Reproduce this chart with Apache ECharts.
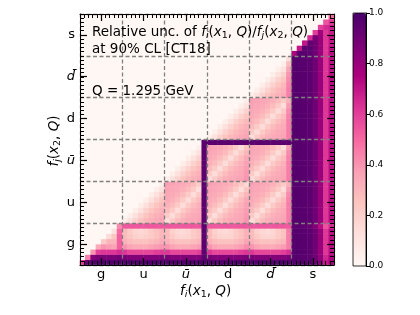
<!DOCTYPE html>
<html>
<head>
<meta charset="utf-8">
<script src="https://cdn.jsdelivr.net/npm/echarts@6/dist/echarts.min.js"></script>
<style>
  html, body { margin: 0; padding: 0; background: #fff; }
  #wrap { position: relative; width: 420px; height: 315px; }
  #chart, #frame { position: absolute; left: 0; top: 0; width: 420px; height: 315px; }
  #frame { pointer-events: none; }
</style>
</head>
<body>
<div id="wrap">
  <div id="chart"></div>
  <div id="frame"></div>
</div>
<script>
// flavour blocks along both axes
const flavors = ["g", "u", "ū", "d", "d̄", "s"];
const minorTicks = 60; // minor tick marks along each axis

// relative uncertainty in % of full scale; rows = f_j(x2) from bottom, columns = f_i(x1)
const rowsG = [
  [60,92,98,98,98,98,98,98, 98,98,98,98,98,98,98,98, 98,98,98,98,98,98,98,98, 98,98,98,98,98,98,98,98, 98,98,98,98,98,98,98,98, 98,98,97,96,92,85,70,78],
  [0,45,85,88,88,88,88,90, 88,86,86,86,86,86,86,88, 88,86,86,86,86,86,86,95, 88,86,86,86,86,86,86,88, 88,86,86,86,86,86,86,88, 97,97,96,95,90,82,66,75],
  [0,0,40,60,62,62,62,65, 62,58,58,58,58,58,60,62, 62,58,58,58,58,58,60,95, 62,58,58,58,58,58,60,62, 62,58,58,58,58,58,60,64, 97,97,96,95,90,80,62,72],
  [0,0,0,34,40,38,36,52, 40,36,34,34,34,36,38,40, 40,36,34,34,34,36,38,95, 40,36,34,34,34,36,38,42, 40,36,34,34,34,36,38,45, 97,97,96,95,90,80,62,72],
  [0,0,0,0,22,30,30,52, 32,28,26,26,26,28,30,34, 32,28,26,26,26,28,30,95, 32,28,26,26,26,28,30,36, 32,28,26,26,26,28,30,45, 97,97,96,95,90,80,62,72],
  [0,0,0,0,0,15,24,52, 28,24,20,18,20,22,26,30, 28,22,18,17,18,22,26,95, 28,22,18,17,18,22,26,32, 28,22,18,17,18,22,26,45, 97,97,96,95,90,80,62,72],
  [0,0,0,0,0,0,12,50, 28,22,18,16,18,22,26,30, 28,20,16,15,17,22,26,95, 28,20,16,15,17,22,26,32, 28,20,16,15,17,22,26,45, 97,97,96,95,90,80,62,72],
  [0,0,0,0,0,0,0,42, 54,54,54,54,54,54,54,54, 54,54,54,54,54,54,54,95, 54,54,54,54,54,54,54,54, 54,54,54,54,54,54,54,54, 95,95,94,92,85,72,55,65]
];
const rowsU = [
  [0,0,0,0,0,0,0,0, 5,12,19,25,29,32,34,36, 14,22,28,32,34,35,36,95, 14,22,28,32,34,35,36,40, 14,22,28,32,34,35,36,45, 97,97,96,95,90,80,62,72],
  [0,0,0,0,0,0,0,0, 0,5,12,19,25,29,32,34, 22,14,22,28,32,34,35,95, 22,14,22,28,32,34,35,39, 22,14,22,28,32,34,35,45, 97,97,96,95,90,80,62,72],
  [0,0,0,0,0,0,0,0, 0,0,5,12,19,25,29,32, 28,22,14,22,28,32,34,95, 28,22,14,22,28,32,34,38, 28,22,14,22,28,32,34,45, 97,97,96,95,90,80,62,72],
  [0,0,0,0,0,0,0,0, 0,0,0,5,12,19,25,29, 32,28,22,14,22,28,32,95, 32,28,22,14,22,28,32,37, 32,28,22,14,22,28,32,45, 97,97,96,95,90,80,62,72],
  [0,0,0,0,0,0,0,0, 0,0,0,0,5,12,19,25, 34,32,28,22,14,22,28,95, 34,32,28,22,14,22,28,35, 34,32,28,22,14,22,28,44, 97,97,96,95,90,80,62,72],
  [0,0,0,0,0,0,0,0, 0,0,0,0,0,5,12,19, 35,34,32,28,22,14,22,95, 35,34,32,28,22,14,22,30, 35,34,32,28,22,14,22,42, 97,97,96,95,90,80,62,72],
  [0,0,0,0,0,0,0,0, 0,0,0,0,0,0,5,12, 36,35,34,32,28,22,14,95, 36,35,34,32,28,22,14,25, 36,35,34,32,28,22,14,38, 97,97,96,95,90,80,62,72],
  [0,0,0,0,0,0,0,0, 0,0,0,0,0,0,0,5, 37,36,35,34,32,28,22,95, 37,36,35,34,32,28,22,16, 37,36,35,34,32,28,22,32, 97,97,96,95,90,80,62,72]
];
const rowsUbar = [
  [0,0,0,0,0,0,0,0, 0,0,0,0,0,0,0,0, 5,12,19,25,29,32,34,95, 14,22,28,32,34,35,36,40, 14,22,28,32,34,35,36,45, 97,97,96,95,90,80,62,72],
  [0,0,0,0,0,0,0,0, 0,0,0,0,0,0,0,0, 0,5,12,19,25,29,32,95, 22,14,22,28,32,34,35,39, 22,14,22,28,32,34,35,45, 97,97,96,95,90,80,62,72],
  [0,0,0,0,0,0,0,0, 0,0,0,0,0,0,0,0, 0,0,5,12,19,25,29,95, 28,22,14,22,28,32,34,38, 28,22,14,22,28,32,34,45, 97,97,96,95,90,80,62,72],
  [0,0,0,0,0,0,0,0, 0,0,0,0,0,0,0,0, 0,0,0,5,12,19,25,95, 32,28,22,14,22,28,32,37, 32,28,22,14,22,28,32,45, 97,97,96,95,90,80,62,72],
  [0,0,0,0,0,0,0,0, 0,0,0,0,0,0,0,0, 0,0,0,0,5,12,19,95, 34,32,28,22,14,22,28,35, 34,32,28,22,14,22,28,44, 97,97,96,95,90,80,62,72],
  [0,0,0,0,0,0,0,0, 0,0,0,0,0,0,0,0, 0,0,0,0,0,5,12,95, 35,34,32,28,22,14,22,30, 35,34,32,28,22,14,22,42, 97,97,96,95,90,80,62,72],
  [0,0,0,0,0,0,0,0, 0,0,0,0,0,0,0,0, 0,0,0,0,0,0,5,95, 36,35,34,32,28,22,14,25, 36,35,34,32,28,22,14,38, 97,97,96,95,90,80,62,72],
  [0,0,0,0,0,0,0,0, 0,0,0,0,0,0,0,0, 0,0,0,0,0,0,0,95, 95,95,95,95,95,95,95,95, 95,95,95,95,95,95,95,95, 97,97,96,95,90,80,62,72]
];
const rowsD = [
  [0,0,0,0,0,0,0,0, 0,0,0,0,0,0,0,0, 0,0,0,0,0,0,0,0, 5,12,19,25,29,32,34,36, 14,22,28,32,34,35,36,45, 97,97,96,95,90,80,62,72],
  [0,0,0,0,0,0,0,0, 0,0,0,0,0,0,0,0, 0,0,0,0,0,0,0,0, 0,5,12,19,25,29,32,34, 22,14,22,28,32,34,35,45, 97,97,96,95,90,80,62,72],
  [0,0,0,0,0,0,0,0, 0,0,0,0,0,0,0,0, 0,0,0,0,0,0,0,0, 0,0,5,12,19,25,29,32, 28,22,14,22,28,32,34,45, 97,97,96,95,90,80,62,72],
  [0,0,0,0,0,0,0,0, 0,0,0,0,0,0,0,0, 0,0,0,0,0,0,0,0, 0,0,0,5,12,19,25,29, 32,28,22,14,22,28,32,45, 97,97,96,95,90,80,62,72],
  [0,0,0,0,0,0,0,0, 0,0,0,0,0,0,0,0, 0,0,0,0,0,0,0,0, 0,0,0,0,5,12,19,25, 34,32,28,22,14,22,28,44, 97,97,96,95,90,80,62,72],
  [0,0,0,0,0,0,0,0, 0,0,0,0,0,0,0,0, 0,0,0,0,0,0,0,0, 0,0,0,0,0,5,12,19, 35,34,32,28,22,14,22,42, 97,97,96,95,90,80,62,72],
  [0,0,0,0,0,0,0,0, 0,0,0,0,0,0,0,0, 0,0,0,0,0,0,0,0, 0,0,0,0,0,0,5,12, 36,35,34,32,28,22,14,38, 97,97,96,95,90,80,62,72],
  [0,0,0,0,0,0,0,0, 0,0,0,0,0,0,0,0, 0,0,0,0,0,0,0,0, 0,0,0,0,0,0,0,5, 37,36,35,34,32,28,22,32, 97,97,96,95,90,80,62,72]
];
const rowsDbar = [
  [0,0,0,0,0,0,0,0, 0,0,0,0,0,0,0,0, 0,0,0,0,0,0,0,0, 0,0,0,0,0,0,0,0, 5,12,19,25,29,32,34,45, 97,97,96,95,90,80,62,72],
  [0,0,0,0,0,0,0,0, 0,0,0,0,0,0,0,0, 0,0,0,0,0,0,0,0, 0,0,0,0,0,0,0,0, 0,5,12,19,25,29,32,45, 97,97,96,95,90,80,62,72],
  [0,0,0,0,0,0,0,0, 0,0,0,0,0,0,0,0, 0,0,0,0,0,0,0,0, 0,0,0,0,0,0,0,0, 0,0,5,12,19,25,29,44, 97,97,96,95,90,80,62,72],
  [0,0,0,0,0,0,0,0, 0,0,0,0,0,0,0,0, 0,0,0,0,0,0,0,0, 0,0,0,0,0,0,0,0, 0,0,0,5,12,19,25,42, 97,97,96,95,90,80,62,72],
  [0,0,0,0,0,0,0,0, 0,0,0,0,0,0,0,0, 0,0,0,0,0,0,0,0, 0,0,0,0,0,0,0,0, 0,0,0,0,5,12,19,40, 97,97,96,95,90,80,62,72],
  [0,0,0,0,0,0,0,0, 0,0,0,0,0,0,0,0, 0,0,0,0,0,0,0,0, 0,0,0,0,0,0,0,0, 0,0,0,0,0,5,12,36, 97,97,96,95,90,80,62,72],
  [0,0,0,0,0,0,0,0, 0,0,0,0,0,0,0,0, 0,0,0,0,0,0,0,0, 0,0,0,0,0,0,0,0, 0,0,0,0,0,0,5,28, 97,97,96,95,90,80,62,72],
  [0,0,0,0,0,0,0,0, 0,0,0,0,0,0,0,0, 0,0,0,0,0,0,0,0, 0,0,0,0,0,0,0,0, 0,0,0,0,0,0,0,14, 97,97,96,95,90,80,62,72]
];
const rowsS = [
  [0,0,0,0,0,0,0,0, 0,0,0,0,0,0,0,0, 0,0,0,0,0,0,0,0, 0,0,0,0,0,0,0,0, 0,0,0,0,0,0,0,0, 75,97,96,95,90,80,62,72],
  [0,0,0,0,0,0,0,0, 0,0,0,0,0,0,0,0, 0,0,0,0,0,0,0,0, 0,0,0,0,0,0,0,0, 0,0,0,0,0,0,0,0, 0,70,95,95,90,80,62,72],
  [0,0,0,0,0,0,0,0, 0,0,0,0,0,0,0,0, 0,0,0,0,0,0,0,0, 0,0,0,0,0,0,0,0, 0,0,0,0,0,0,0,0, 0,0,70,93,90,80,62,70],
  [0,0,0,0,0,0,0,0, 0,0,0,0,0,0,0,0, 0,0,0,0,0,0,0,0, 0,0,0,0,0,0,0,0, 0,0,0,0,0,0,0,0, 0,0,0,65,88,80,62,70],
  [0,0,0,0,0,0,0,0, 0,0,0,0,0,0,0,0, 0,0,0,0,0,0,0,0, 0,0,0,0,0,0,0,0, 0,0,0,0,0,0,0,0, 0,0,0,0,60,78,62,68],
  [0,0,0,0,0,0,0,0, 0,0,0,0,0,0,0,0, 0,0,0,0,0,0,0,0, 0,0,0,0,0,0,0,0, 0,0,0,0,0,0,0,0, 0,0,0,0,0,60,65,68],
  [0,0,0,0,0,0,0,0, 0,0,0,0,0,0,0,0, 0,0,0,0,0,0,0,0, 0,0,0,0,0,0,0,0, 0,0,0,0,0,0,0,0, 0,0,0,0,0,0,55,62],
  [0,0,0,0,0,0,0,0, 0,0,0,0,0,0,0,0, 0,0,0,0,0,0,0,0, 0,0,0,0,0,0,0,0, 0,0,0,0,0,0,0,0, 0,0,0,0,0,0,0,50]
];

const rdpu = ["#fff7f3", "#fde0dd", "#fcc5c0", "#fa9fb5", "#f768a1", "#dd3497", "#ae017e", "#7a0177", "#49006a"];

const allRows = [].concat(rowsG, rowsU, rowsUbar, rowsD, rowsDbar, rowsS);
const cells = allRows[0].map((_, i) => String(i));
const heat = [];
allRows.forEach((row, r) => row.forEach((v, c) => heat.push([c, r, v])));

const FONT = "DejaVu Sans";
const mathRich = {
  rm: { fontFamily: FONT, fontSize: 13.5, lineHeight: 18, color: "#000" },
  it: { fontFamily: FONT, fontStyle: "italic", fontSize: 13.5, lineHeight: 18, color: "#000" },
  sub: { fontFamily: FONT, fontStyle: "italic", fontSize: 9.5, lineHeight: 10, verticalAlign: "bottom", color: "#000" },
  subn: { fontFamily: FONT, fontSize: 9.5, lineHeight: 10, verticalAlign: "bottom", color: "#000" }
};
const tickRich = {
  rm: { fontFamily: FONT, fontSize: 13, lineHeight: 14, color: "#000" },
  it: { fontFamily: FONT, fontStyle: "italic", fontSize: 13, lineHeight: 14, color: "#000" }
};
const flavorLabel = (v) => (v === "ū" || v === "d̄") ? "{it|" + v + "}" : "{rm|" + v + "}";

const PLOT = { left: 80, top: 14, width: 254, height: 251 };
const CBAR = { left: 353, top: 13, width: 13, height: 253 };

/* ---------- heatmap, dashed block lines, colour bar, texts ---------- */
function splitAxis() {
  return {
    type: "category", gridIndex: 0, data: flavors, z: 4,
    axisLine: { show: false, onZero: false }, axisTick: { show: false }, axisLabel: { show: false },
    splitLine: { show: true, interval: 0, lineStyle: { color: "#808080", width: 1.3, type: [4, 2.5] } }
  };
}
const chart = echarts.init(document.getElementById("chart"));
chart.setOption({
  animation: false,
  backgroundColor: "#fff",
  grid: [PLOT],
  xAxis: [{ type: "category", gridIndex: 0, data: cells, show: false }, splitAxis()],
  yAxis: [{ type: "category", gridIndex: 0, data: cells, show: false }, splitAxis()],
  visualMap: {
    type: "continuous", min: 0, max: 100, seriesIndex: 0, dimension: 2,
    calculable: false, hoverLink: false, show: true, padding: 0,
    left: CBAR.left, top: CBAR.top, itemWidth: CBAR.width, itemHeight: CBAR.height,
    inRange: { color: rdpu }
  },
  series: [{
    type: "heatmap", xAxisIndex: 0, yAxisIndex: 0, data: heat, z: 2,
    itemStyle: { borderWidth: 0 },
    emphasis: { disabled: true }
  }],
  graphic: [
    {
      type: "text", left: 92, top: 25, z: 20,
      style: {
        rich: mathRich,
        text: "{rm|Relative unc. of }{it|f}{sub|i}{rm|(}{it|x}{subn|1}{rm|, }{it|Q}{rm|)/}{it|f}{sub|j}{rm|(}{it|x}{subn|2}{rm|, }{it|Q}{rm|)}"
      }
    },
    { type: "text", left: 92, top: 42, z: 20, style: { rich: mathRich, text: "{rm|at 90% CL [CT18]}" } },
    { type: "text", left: 92, top: 84, z: 20, style: { rich: mathRich, text: "{rm|Q = 1.295 GeV}" } },
    {
      type: "text", left: 180, top: 284, z: 20,
      style: { rich: mathRich, text: "{it|f}{sub|i}{rm|(}{it|x}{subn|1}{rm|, }{it|Q}{rm|)}" }
    },
    {
      type: "text", x: 54, y: 141, rotation: Math.PI / 2, z: 20,
      style: { rich: mathRich, align: "center", verticalAlign: "middle", text: "{it|f}{sub|j}{rm|(}{it|x}{subn|2}{rm|, }{it|Q}{rm|)}" }
    }
  ]
});

/* ---------- frame: axes, ticks and labels drawn on top ---------- */
function majorAxis(pos, labels) {
  return {
    type: "category", gridIndex: 0, data: flavors, position: pos, z: 6,
    axisLine: { show: true, onZero: false, lineStyle: { color: "#000", width: 1 } },
    axisTick: { show: true, inside: true, alignWithLabel: true, interval: 0, length: 7, lineStyle: { color: "#000", width: 1.2 } },
    axisLabel: labels ? { show: true, interval: 0, margin: pos === "left" ? 5 : 3, formatter: flavorLabel, rich: tickRich } : { show: false },
    splitLine: { show: false }
  };
}
function minorAxis(pos) {
  return {
    type: "value", gridIndex: 0, min: 0, max: minorTicks, interval: 1, position: pos, z: 6,
    axisLine: { show: false, onZero: false },
    axisTick: { show: true, inside: true, length: 4, lineStyle: { color: "#000", width: 1 } },
    axisLabel: { show: false },
    splitLine: { show: false }
  };
}
const frame = echarts.init(document.getElementById("frame"));
frame.setOption({
  animation: false,
  grid: [
    PLOT,
    Object.assign({ show: true, borderColor: "#000", borderWidth: 0.8 }, CBAR)
  ],
  xAxis: [
    majorAxis("bottom", true),
    minorAxis("bottom"),
    majorAxis("top", false),
    minorAxis("top"),
    { type: "category", gridIndex: 1, data: [""], show: false }
  ],
  yAxis: [
    majorAxis("left", true),
    minorAxis("left"),
    majorAxis("right", false),
    minorAxis("right"),
    {
      type: "value", gridIndex: 1, min: 0, max: 1, interval: 0.2, position: "right",
      axisLine: { show: true, onZero: false, lineStyle: { color: "#000", width: 1 } },
      axisTick: { show: true, length: 4, lineStyle: { color: "#000" } },
      axisLabel: { fontFamily: FONT, fontSize: 9, color: "#000", margin: 3, formatter: (v) => v.toFixed(1) },
      splitLine: { show: false }
    }
  ],
  series: [{ type: "line", xAxisIndex: 0, yAxisIndex: 0, data: [], silent: true }]
});
</script>
</body>
</html>
